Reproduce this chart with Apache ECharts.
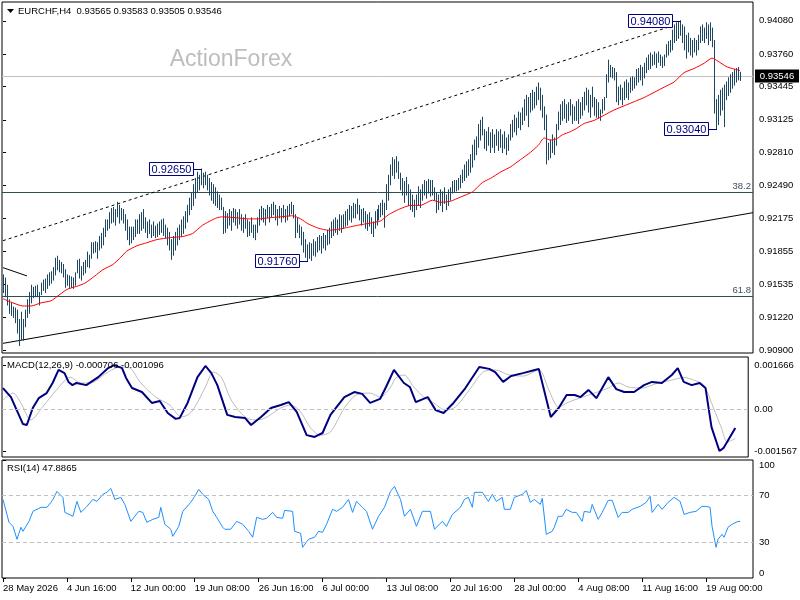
<!DOCTYPE html>
<html><head><meta charset="utf-8">
<script src="https://cdn.jsdelivr.net/npm/echarts@6/dist/echarts.min.js"></script>
<style>html,body{margin:0;padding:0;background:#fff}#c{width:800px;height:600px}</style>
</head><body><div id="c"></div>
<script>
// ---------- DATA ----------
const symbolName = 'EURCHF,H4';
const lastOHLC = [0.93565, 0.93583, 0.93505, 0.93546];
const dateLabels = ['28 May 2026','4 Jun 16:00','12 Jun 00:00','19 Jun 08:00','26 Jun 16:00','6 Jul 00:00','13 Jul 08:00','20 Jul 16:00','28 Jul 00:00','4 Aug 08:00','11 Aug 16:00','19 Aug 00:00'];
const dateTickBars = [0,32,64,96,128,160,192,224,256,288,320,352];
const priceTicks = [0.94080,0.93760,0.93445,0.93125,0.92810,0.92490,0.92175,0.91855,0.91535,0.91220,0.90900];
const macdTicks = [0.001666, 0, -0.001567];
const rsiTicks = [0, 30, 70, 100];

const barHigh = [
0.9163,0.9160,0.9153,0.9139,0.9136,0.9132,0.9131,0.9129,0.9120,0.9127,
0.9120,0.9129,0.9139,0.9146,0.9153,0.9151,0.9152,0.9153,0.9146,0.9155,
0.9158,0.9159,0.9163,0.9165,0.9166,0.9170,0.9179,0.9181,0.9177,0.9175,
0.9173,0.9168,0.9163,0.9162,0.9161,0.9160,0.9165,0.9177,0.9178,0.9171,
0.9175,0.9177,0.9185,0.9182,0.9194,0.9194,0.9195,0.9194,0.9200,0.9203,
0.9208,0.9216,0.9216,0.9223,0.9227,0.9228,0.9226,0.9233,0.9230,0.9227,
0.9226,0.9221,0.9216,0.9209,0.9209,0.9209,0.9216,0.9216,0.9221,0.9223,
0.9226,0.9218,0.9214,0.9216,0.9211,0.9214,0.9210,0.9212,0.9214,0.9216,
0.9217,0.9211,0.9208,0.9204,0.9197,0.9200,0.9204,0.9208,0.9211,0.9216,
0.9219,0.9224,0.9230,0.9237,0.9242,0.9250,0.9256,0.9262,0.9259,0.9265,
0.9261,0.9262,0.9259,0.9256,0.9252,0.9250,0.9247,0.9243,0.9240,0.9237,
0.9228,0.9224,0.9222,0.9226,0.9224,0.9227,0.9226,0.9223,0.9226,0.9221,
0.9218,0.9221,0.9216,0.9214,0.9218,0.9211,0.9211,0.9218,0.9226,0.9229,
0.9227,0.9226,0.9230,0.9228,0.9231,0.9233,0.9230,0.9226,0.9229,0.9227,
0.9230,0.9226,0.9229,0.9231,0.9233,0.9230,0.9221,0.9218,0.9211,0.9209,
0.9204,0.9197,0.9192,0.9194,0.9193,0.9197,0.9195,0.9199,0.9201,0.9200,
0.9203,0.9201,0.9206,0.9208,0.9214,0.9216,0.9218,0.9216,0.9221,0.9220,
0.9221,0.9224,0.9226,0.9230,0.9229,0.9232,0.9231,0.9236,0.9230,0.9226,
0.9227,0.9224,0.9221,0.9223,0.9218,0.9214,0.9224,0.9226,0.9230,0.9232,
0.9235,0.9232,0.9250,0.9259,0.9269,0.9276,0.9274,0.9277,0.9272,0.9261,
0.9256,0.9253,0.9257,0.9250,0.9245,0.9240,0.9235,0.9240,0.9248,0.9245,
0.9250,0.9254,0.9253,0.9255,0.9254,0.9254,0.9247,0.9242,0.9240,0.9245,
0.9243,0.9247,0.9240,0.9245,0.9247,0.9253,0.9254,0.9254,0.9256,0.9259,
0.9264,0.9269,0.9272,0.9274,0.9279,0.9288,0.9293,0.9296,0.9308,0.9312,
0.9315,0.9303,0.9301,0.9305,0.9300,0.9303,0.9298,0.9303,0.9301,0.9303,
0.9298,0.9301,0.9295,0.9298,0.9308,0.9312,0.9317,0.9314,0.9320,0.9319,
0.9324,0.9332,0.9336,0.9334,0.9338,0.9341,0.9339,0.9344,0.9348,0.9343,
0.9336,0.9325,0.9317,0.9290,0.9293,0.9298,0.9295,0.9308,0.9320,0.9327,
0.9330,0.9332,0.9327,0.9329,0.9332,0.9327,0.9325,0.9330,0.9332,0.9329,
0.9334,0.9339,0.9343,0.9341,0.9336,0.9344,0.9334,0.9332,0.9329,0.9322,
0.9332,0.9334,0.9356,0.9370,0.9365,0.9363,0.9362,0.9358,0.9344,0.9346,
0.9343,0.9349,0.9351,0.9348,0.9353,0.9354,0.9353,0.9361,0.9362,0.9365,
0.9363,0.9367,0.9372,0.9375,0.9377,0.9375,0.9378,0.9376,0.9378,0.9375,
0.9373,0.9375,0.9385,0.9388,0.9389,0.9399,0.9404,0.9406,0.9407,0.9408,
0.9404,0.9402,0.9394,0.9396,0.9391,0.9389,0.9391,0.9389,0.9394,0.9402,
0.9404,0.9401,0.9406,0.9404,0.9406,0.9401,0.9389,0.9332,0.9336,0.9341,
0.9343,0.9346,0.9349,0.9353,0.9356,0.9358,0.9361,0.9362,0.9363,0.93583];

const barLow = [
0.9146,0.9142,0.9134,0.9126,0.9124,0.9122,0.9117,0.9107,0.9095,0.9100,
0.9100,0.9113,0.9122,0.9126,0.9136,0.9141,0.9142,0.9142,0.9134,0.9144,
0.9148,0.9146,0.9150,0.9153,0.9155,0.9158,0.9163,0.9168,0.9166,0.9165,
0.9161,0.9151,0.9153,0.9151,0.9151,0.9150,0.9153,0.9165,0.9160,0.9158,
0.9163,0.9165,0.9171,0.9170,0.9179,0.9184,0.9185,0.9179,0.9187,0.9189,
0.9192,0.9200,0.9206,0.9208,0.9213,0.9214,0.9211,0.9219,0.9213,0.9216,
0.9213,0.9206,0.9197,0.9192,0.9194,0.9197,0.9200,0.9203,0.9203,0.9206,
0.9208,0.9204,0.9199,0.9203,0.9199,0.9201,0.9199,0.9200,0.9202,0.9204,
0.9201,0.9199,0.9192,0.9187,0.9178,0.9182,0.9187,0.9192,0.9197,0.9200,
0.9203,0.9208,0.9214,0.9221,0.9226,0.9230,0.9237,0.9243,0.9245,0.9250,
0.9247,0.9250,0.9245,0.9240,0.9235,0.9232,0.9230,0.9228,0.9226,0.9226,
0.9203,0.9204,0.9208,0.9211,0.9206,0.9214,0.9211,0.9208,0.9212,0.9206,
0.9204,0.9208,0.9200,0.9201,0.9204,0.9199,0.9197,0.9204,0.9211,0.9216,
0.9214,0.9211,0.9218,0.9214,0.9219,0.9221,0.9216,0.9211,0.9218,0.9214,
0.9218,0.9214,0.9216,0.9220,0.9222,0.9218,0.9199,0.9204,0.9199,0.9192,
0.9185,0.9180,0.9176,0.9179,0.9177,0.9182,0.9181,0.9185,0.9187,0.9184,
0.9189,0.9187,0.9192,0.9193,0.9199,0.9201,0.9204,0.9202,0.9206,0.9204,
0.9208,0.9210,0.9211,0.9216,0.9214,0.9218,0.9218,0.9222,0.9216,0.9211,
0.9214,0.9208,0.9206,0.9210,0.9203,0.9200,0.9208,0.9211,0.9216,0.9219,
0.9221,0.9209,0.9226,0.9235,0.9250,0.9259,0.9256,0.9262,0.9256,0.9245,
0.9240,0.9233,0.9240,0.9230,0.9226,0.9224,0.9219,0.9226,0.9230,0.9228,
0.9235,0.9240,0.9237,0.9242,0.9239,0.9240,0.9235,0.9223,0.9226,0.9230,
0.9224,0.9232,0.9226,0.9230,0.9235,0.9242,0.9243,0.9244,0.9245,0.9247,
0.9252,0.9254,0.9257,0.9259,0.9262,0.9267,0.9274,0.9279,0.9286,0.9293,
0.9298,0.9285,0.9283,0.9288,0.9281,0.9286,0.9281,0.9288,0.9283,0.9286,
0.9281,0.9285,0.9279,0.9283,0.9293,0.9296,0.9301,0.9298,0.9305,0.9303,
0.9308,0.9312,0.9317,0.9306,0.9320,0.9322,0.9324,0.9327,0.9332,0.9322,
0.9315,0.9303,0.9270,0.9274,0.9276,0.9281,0.9279,0.9288,0.9303,0.9308,
0.9312,0.9314,0.9310,0.9312,0.9317,0.9309,0.9312,0.9312,0.9309,0.9314,
0.9317,0.9322,0.9327,0.9320,0.9315,0.9325,0.9317,0.9315,0.9314,0.9312,
0.9319,0.9322,0.9334,0.9349,0.9354,0.9353,0.9351,0.9330,0.9327,0.9332,
0.9327,0.9332,0.9334,0.9332,0.9339,0.9341,0.9343,0.9346,0.9349,0.9351,
0.9346,0.9353,0.9358,0.9361,0.9362,0.9365,0.9366,0.9363,0.9368,0.9365,
0.9363,0.9365,0.9373,0.9375,0.9378,0.9380,0.9387,0.9389,0.9391,0.9394,
0.9387,0.9380,0.9372,0.9378,0.9375,0.9373,0.9378,0.9375,0.9380,0.9387,
0.9389,0.9387,0.9391,0.9385,0.9389,0.9383,0.9319,0.9304,0.9308,0.9317,
0.9322,0.9306,0.9332,0.9336,0.9339,0.9343,0.9346,0.9349,0.9351,0.93505];

// moving average (red) [bar index, price]
const maLine = [[0,0.9140],[5,0.9136],[10,0.9133],[14,0.9133],[19,0.9136],[24,0.9138],[27,0.9142],[32,0.9149],[37,0.9152],[41,0.9155],[46,0.9162],[50,0.9168],[55,0.9173],[59,0.9180],[62,0.9186],[67,0.9191],[72,0.9194],[77,0.9197],[84,0.9199],[90,0.9200],[95,0.9203],[100,0.9211],[107,0.9218],[110,0.9219],[117,0.9218],[123,0.9217],[128,0.9217],[133,0.9218],[139,0.9219],[145,0.9220],[149,0.9217],[153,0.9212],[158,0.9208],[163,0.9206],[168,0.9207],[173,0.9209],[178,0.9211],[184,0.9213],[189,0.9215],[193,0.9221],[198,0.9226],[204,0.9230],[209,0.9230],[215,0.9235],[219,0.9233],[224,0.9234],[229,0.9238],[235,0.9243],[240,0.9252],[244,0.9256],[249,0.9262],[254,0.9267],[259,0.9274],[264,0.9281],[268,0.9288],[271,0.9295],[274,0.9293],[277,0.9294],[280,0.9298],[284,0.9301],[287,0.9304],[291,0.9309],[296,0.9312],[301,0.9317],[306,0.9322],[311,0.9326],[316,0.9330],[321,0.9334],[326,0.9339],[331,0.9344],[336,0.9349],[341,0.9358],[346,0.9362],[351,0.9367],[355,0.9372],[358,0.9369],[362,0.9364],[365,0.9362],[369,0.9360]];

// drawn objects
const upperChannel = [[0,0.9196],[335,0.9403]];
const lowerChannel = [[0,0.9097],[375.5,0.9223]];
const shortLine = [[0,0.9170],[12,0.9162]];
const fibNames = ['38.2', '61.8'];
const fibPrices = [0.9243, 0.9143];
const currentPrice = 0.93546;
const priceMarks = [[99,0.92650,'0.92650'],[152,0.91760,'0.91760'],[339,0.94080,'0.94080'],[357,0.93040,'0.93040']];

// MACD(12,26,9)
const macdMain = [[0,0.00080],[4,0.00046],[10,-0.00055],[12,-0.00059],[15,0.00005],[18,0.00042],[22,0.00061],[25,0.00099],[28,0.00148],[31,0.00136],[33,0.00103],[35,0.00091],[37,0.00099],[42,0.00091],[48,0.00121],[53,0.00155],[56,0.00166],[60,0.00155],[62,0.00118],[65,0.00080],[70,0.00065],[75,0.00024],[79,0.00031],[83,-0.00014],[87,-0.00036],[89,-0.00033],[93,0.00024],[98,0.00121],[102,0.00163],[105,0.00136],[108,0.00091],[113,-0.00021],[117,-0.00029],[122,-0.00033],[125,-0.00059],[130,-0.00029],[135,0.00005],[140,0.00016],[144,0.00027],[148,-0.00010],[153,-0.00097],[157,-0.00104],[161,-0.00089],[165,-0.00021],[172,0.00046],[177,0.00065],[181,0.00058],[185,0.00024],[190,0.00039],[193,0.00084],[197,0.00148],[198,0.00155],[202,0.00099],[205,0.00084],[208,0.00027],[214,0.00046],[218,-0.00003],[222,-0.00014],[227,0.00024],[233,0.00080],[240,0.00159],[245,0.00152],[248,0.00140],[252,0.00103],[256,0.00125],[262,0.00136],[268,0.00148],[270,0.00152],[276,-0.00029],[280,0.00005],[284,0.00054],[288,0.00054],[291,0.00046],[295,0.00073],[299,0.00042],[305,0.00121],[309,0.00076],[313,0.00065],[318,0.00065],[323,0.00091],[327,0.00103],[332,0.00099],[337,0.00129],[340,0.00155],[343,0.00103],[347,0.00091],[351,0.00099],[354,0.00080],[357,-0.00067],[361,-0.001567],[363,-0.00146],[369,-0.000706]];
const macdSignal = [[0,0.00035],[5,0.00061],[9,0.00024],[14,-0.00040],[20,0.00009],[27,0.00073],[34,0.00121],[39,0.00099],[44,0.00099],[52,0.00136],[59,0.00159],[64,0.00155],[69,0.00103],[77,0.00046],[84,0.00016],[90,-0.00029],[95,-0.00010],[102,0.00084],[106,0.00140],[110,0.00121],[115,0.00035],[122,-0.00029],[127,-0.00040],[132,-0.00033],[140,0.00005],[145,0.00016],[150,-0.00010],[155,-0.00070],[160,-0.00097],[165,-0.00085],[172,0.00005],[178,0.00054],[185,0.00061],[190,0.00046],[195,0.00080],[198,0.00118],[202,0.00129],[207,0.00084],[212,0.00046],[217,0.00024],[223,-0.00003],[228,0.00009],[235,0.00073],[242,0.00140],[248,0.00148],[255,0.00129],[262,0.00125],[270,0.00148],[275,0.00073],[280,0.00009],[285,0.00027],[292,0.00046],[298,0.00061],[305,0.00080],[310,0.00099],[315,0.00084],[322,0.00080],[330,0.00099],[337,0.00110],[343,0.00120],[348,0.00110],[353,0.00091],[358,0.00005],[362,-0.00070],[365,-0.00123],[369,-0.001096]];

// RSI(14)
const rsiLine = [[0,66.6],[3,47.2],[5,43.8],[7,32.8],[9,43.0],[10,39.6],[13,48.0],[15,56.5],[19,59.9],[22,59.9],[24,64.1],[25,66.6],[27,73.4],[30,68.3],[31,55.6],[35,52.3],[37,64.9],[39,55.6],[42,60.7],[45,66.6],[47,64.9],[50,70.9],[52,72.6],[54,75.9],[56,66.6],[59,68.3],[61,62.4],[64,48.0],[66,52.3],[68,56.5],[70,55.6],[72,47.2],[75,49.7],[78,51.4],[79,59.9],[81,45.5],[84,41.3],[85,35.3],[88,43.8],[90,56.5],[94,64.1],[96,69.2],[98,75.1],[100,70.9],[103,66.6],[105,56.5],[107,51.4],[110,43.0],[111,41.3],[114,41.3],[117,48.0],[120,45.5],[123,39.6],[125,34.5],[127,51.4],[130,49.7],[132,50.6],[135,55.6],[137,51.4],[140,50.6],[141,57.3],[145,56.5],[146,39.6],[149,37.9],[150,26.0],[153,32.8],[156,34.5],[158,39.6],[160,38.7],[162,45.5],[165,58.2],[167,56.5],[170,59.9],[173,66.6],[175,55.6],[177,64.9],[180,59.9],[182,56.5],[185,41.3],[188,52.3],[191,59.9],[194,73.4],[196,77.6],[199,66.6],[201,52.3],[204,58.2],[207,43.8],[210,56.5],[214,56.5],[216,41.3],[220,48.0],[222,43.8],[225,53.9],[229,59.9],[231,66.6],[233,68.3],[235,59.9],[236,72.6],[240,72.6],[243,64.9],[245,70.9],[247,64.9],[250,68.3],[251,58.2],[254,58.2],[256,68.3],[260,70.9],[262,74.2],[264,64.1],[266,66.6],[269,62.4],[270,67.5],[272,37.0],[275,39.6],[276,43.0],[278,52.3],[280,52.3],[282,58.2],[285,55.6],[287,55.6],[290,48.0],[291,56.5],[294,55.6],[295,62.4],[298,49.7],[300,55.6],[303,65.8],[305,65.8],[308,51.4],[310,55.6],[313,55.6],[315,58.2],[319,60.7],[322,64.1],[324,69.2],[325,55.6],[328,62.4],[330,58.2],[333,64.1],[336,68.3],[339,64.9],[341,53.9],[344,55.6],[347,56.5],[350,60.7],[352,60.7],[354,59.9],[355,43.8],[357,26.0],[358,32.8],[360,37.0],[361,34.5],[363,43.0],[365,45.5],[368,48.0],[369,47.8865]];
const rsiLevels = [70, 30];

// ---------- CHART ----------
const FONT = 'Liberation Sans';
const barColor = '#1D4662';
const xMin = -0.5, xMax = 375.5;
const grids = [
  {left:2, right:47, top:2, height:351},
  {left:2, right:47, top:357, height:100},
  {left:2, right:47, top:460, height:118}
];
const barData = barHigh.map((h, i) => [i, barLow[i], h]);
const lastMacd = macdMain[macdMain.length-1][1];
const lastSig = macdSignal[macdSignal.length-1][1];
const lastRsi = rsiLine[rsiLine.length-1][1];

function xAxisFor(idx, show) {
  return {
    type:'value', gridIndex: idx, min: xMin, max: xMax, show: true,
    axisLine:{show:false}, splitLine:{show:false},
    axisTick: show ? {show:true, length:4, customValues: dateTickBars, lineStyle:{color:'#000'}} : {show:false},
    axisLabel: show ? {show:true, customValues: dateTickBars, align:'left', margin:5,
      color:'#000', fontFamily:FONT, fontSize:9.5,
      formatter: v => dateLabels[dateTickBars.indexOf(Math.round(v))] || ''} : {show:false}
  };
}
function yAxisFor(idx, min, max, ticks, fmt, labelExtra) {
  return {
    type:'value', gridIndex: idx, position:'right', min: min, max: max, scale:true,
    axisLine:{show:false}, splitLine:{show:false},
    axisTick:{show:true, length:3, customValues: ticks, lineStyle:{color:'#000'}},
    axisLabel:Object.assign({show:true, customValues: ticks, margin:6, align:'left', color:'#000',
      fontFamily:FONT, fontSize:9.5, formatter: fmt}, labelExtra || {})
  };
}

// horizontal level lines spanning the whole panel (drawn from data values through the axis)
function levelRenderer(styleFor) {
  return function(params, api) {
    const cs = params.coordSys;
    const y = Math.round(api.coord([0, api.value(1)])[1]) + 0.5;
    const st = styleFor(params.dataIndex);
    const children = [{type:'line', shape:{x1:cs.x, y1:y, x2:cs.x + cs.width, y2:y},
      style:{stroke: st.color, lineWidth:1, lineDash: st.dash || null}}];
    if (st.tag) {
      children.push({type:'text', x: cs.x + cs.width - 2, y: y - 1,
        style:{text: st.tag, fill:'#3C5060', font:'9.5px "' + FONT + '"', textAlign:'right', textVerticalAlign:'bottom'}});
    }
    if (st.box) {
      const bx = cs.x + cs.width + 2;
      children.push({type:'rect', shape:{x:bx, y:y - 7, width:44, height:13}, style:{fill:'#000'}});
      children.push({type:'text', x: bx + 22, y: y, style:{text: st.box, fill:'#fff', font:'9.5px "' + FONT + '"', textAlign:'center', textVerticalAlign:'middle'}});
    }
    return {type:'group', children: children};
  };
}

const priceLevels = fibPrices.map(p => [0, p]).concat([[0, currentPrice]]);

const chart = echarts.init(document.getElementById('c'), null, {renderer:'canvas'});
chart.setOption({
  animation:false,
  backgroundColor:'#fff',
  grid: grids.map(g => Object.assign({show:true, borderColor:'#000', borderWidth:1, backgroundColor:'#fff'}, g)),
  xAxis: [xAxisFor(0,false), xAxisFor(1,false), xAxisFor(2,true)],
  yAxis: [
    yAxisFor(0, 0.90877, 0.94261, priceTicks, v => v.toFixed(5)),
    yAxisFor(1, -0.001793, 0.001967, macdTicks, v => (Math.abs(v) < 1e-9 ? '0.00' : v.toFixed(6))),
    yAxisFor(2, 0, 100, rsiTicks, v => String(Math.round(v)), {verticalAlignMaxLabel:'top', verticalAlignMinLabel:'bottom'})
  ],
  graphic: [
    {type:'polygon', shape:{points:[[7,9],[14,9],[10.5,13]]}, style:{fill:'#000'}, silent:true},
    {type:'text', x:18, y:11, style:{text: symbolName + '  ' + lastOHLC.map(v => v.toFixed(5)).join(' '), fill:'#000', font:'9.5px "' + FONT + '"', textVerticalAlign:'middle'}},
    {type:'text', x:231, y:60, style:{text:'ActionForex', fill:'#BDBDBD', font:'23px "' + FONT + '"', textAlign:'center', textVerticalAlign:'middle'}},
    {type:'text', x:7, y:365, style:{text:'MACD(12,26,9) ' + lastMacd.toFixed(6) + ' ' + lastSig.toFixed(6), fill:'#000', font:'9.5px "' + FONT + '"', textVerticalAlign:'middle'}, z:100},
    {type:'text', x:7, y:468, style:{text:'RSI(14) ' + lastRsi.toFixed(4), fill:'#000', font:'9.5px "' + FONT + '"', textVerticalAlign:'middle'}, z:100}
  ],
  series: [
    // horizontal levels in price panel (fib 38.2 / 61.8 and current price)
    {type:'custom', xAxisIndex:0, yAxisIndex:0, data: priceLevels, encode:{x:0, y:1}, z:1, silent:true, clip:false,
      renderItem: levelRenderer(i => i < fibPrices.length
        ? {color:'#2F4F4F', tag: fibNames[i]}
        : {color:'#C0C0C0', box: currentPrice.toFixed(5)})},
    // trend lines
    {type:'line', xAxisIndex:0, yAxisIndex:0, data: upperChannel, showSymbol:false, silent:true, z:2,
      lineStyle:{color:'#000', width:1, type:[3,3]}},
    {type:'line', xAxisIndex:0, yAxisIndex:0, data: lowerChannel, showSymbol:false, silent:true, z:2,
      lineStyle:{color:'#000', width:1}},
    {type:'line', xAxisIndex:0, yAxisIndex:0, data: shortLine, showSymbol:false, silent:true, z:2,
      lineStyle:{color:'#000', width:1}},
    // price bars (high-low)
    {type:'custom', xAxisIndex:0, yAxisIndex:0, data: barData, encode:{x:0, y:[1,2]}, z:3, silent:true,
      renderItem: function(params, api) {
        const i = api.value(0);
        const lo = api.coord([i, api.value(1)]);
        const hi = api.coord([i, api.value(2)]);
        const x = Math.round(lo[0]) + 0.5;
        return {type:'line', shape:{x1:x, y1:lo[1]+0.5, x2:x, y2:hi[1]-0.5}, style:{stroke:barColor, lineWidth:1}};
      }},
    // moving average
    {type:'line', xAxisIndex:0, yAxisIndex:0, data: maLine, showSymbol:false, silent:true, z:4,
      smooth:0.2, lineStyle:{color:'#FF0000', width:1}},
    // price labels
    {type:'custom', xAxisIndex:0, yAxisIndex:0, data: priceMarks.map(p => [p[0], p[1]]), encode:{x:0, y:1}, z:10, silent:true,
      renderItem: function(params, api) {
        const m = priceMarks[params.dataIndex];
        const pt = api.coord([m[0], m[1]]);
        const px = Math.round(pt[0]), py = Math.round(pt[1]);
        const w = 44, h = 13, gap = 8;
        const rx = px - gap - w + 0.5, ry = py - 6.5;
        return {type:'group', children:[
          {type:'line', shape:{x1: px - gap, y1: py + 0.5, x2: px + 1, y2: py + 0.5}, style:{stroke:'#000080', lineWidth:1}},
          {type:'rect', shape:{x: rx, y: ry, width: w, height: h}, style:{fill:'#fff', stroke:'#000080', lineWidth:1}},
          {type:'text', x: rx + w/2, y: py + 0.5, style:{text: m[2], fill:'#000080', font:'11px "' + FONT + '"', textAlign:'center', textVerticalAlign:'middle'}}
        ]};
      }},
    // MACD
    {type:'line', xAxisIndex:1, yAxisIndex:1, data: macdSignal, showSymbol:false, silent:true, z:3,
      smooth:0.3, lineStyle:{color:'#BDBDBD', width:1},
      markLine:{symbol:['none','none'], silent:true, label:{show:false},
        data:[{yAxis:0, lineStyle:{color:'#C0C0C0', type:[4,3], width:1}}]}},
    {type:'line', xAxisIndex:1, yAxisIndex:1, data: macdMain, showSymbol:false, silent:true, z:4,
      lineStyle:{color:'#000080', width:2}},
    // RSI
    {type:'line', xAxisIndex:2, yAxisIndex:2, data: rsiLine, showSymbol:false, silent:true, z:4,
      lineStyle:{color:'#1E90FF', width:1},
      markLine:{symbol:['none','none'], silent:true, label:{show:false},
        data: rsiLevels.map(v => ({yAxis:v, lineStyle:{color:'#C0C0C0', type:[4,3], width:1}}))}}
  ]
});
</script></body></html>
